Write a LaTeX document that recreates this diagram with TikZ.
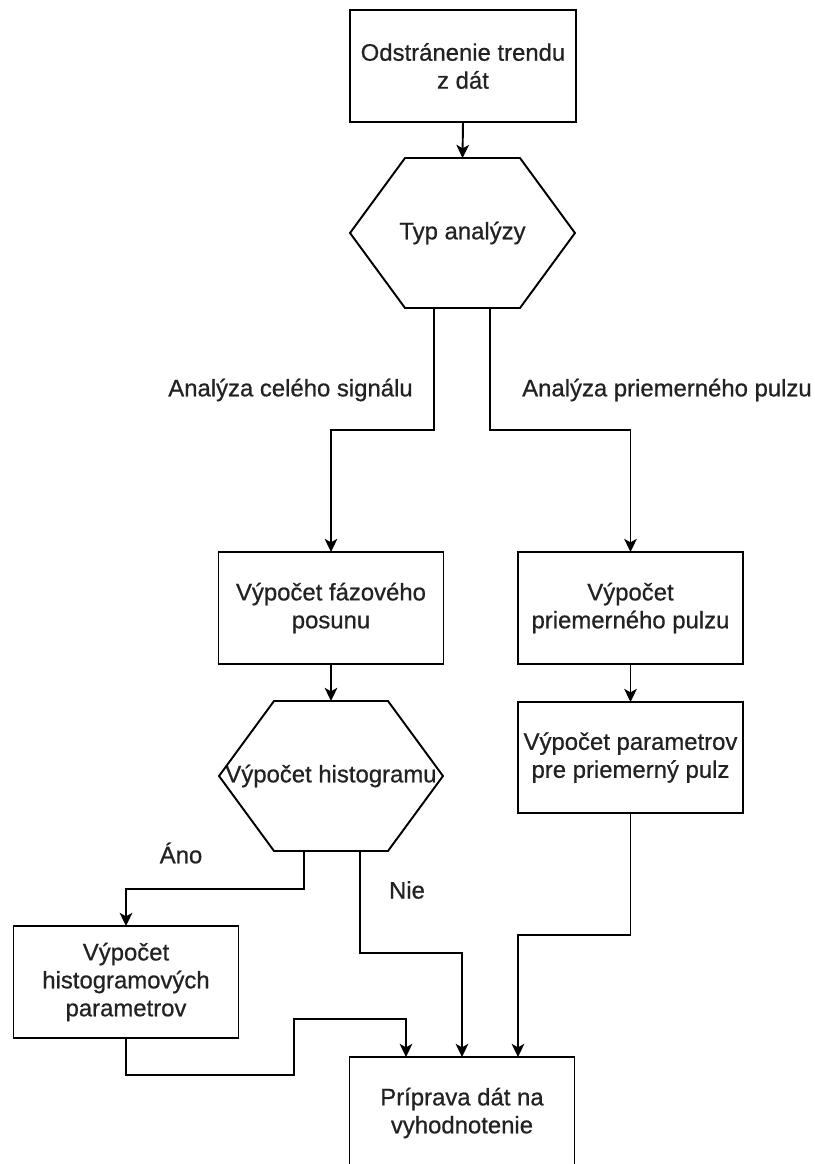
\documentclass[tikz,border=0pt]{standalone}
\usepackage{fontspec}
\setmainfont{Liberation Sans}[FakeBold=0.7]
\usetikzlibrary{arrows.meta,calc}
\definecolor{textc}{RGB}{34,34,34}
\tikzset{
  shapeline/.style={draw=black, line width=1.1pt, line join=miter},
  boxnode/.style={shapeline, minimum width=4.5cm, minimum height=2.24cm, align=center, inner sep=2pt, outer sep=0pt, text=textc},
  hexnode/.style={draw=none, minimum width=4.5cm, minimum height=3cm, align=center, inner sep=0pt, outer sep=0pt, text=textc},
  lbl/.style={text=textc, inner sep=0pt},
  conn/.style={draw=black, line width=1.1pt, -{Stealth[length=7.5pt, width=7.2pt, inset=2pt]}},
}
\newcommand\hexout[1]{\draw[shapeline] ([xshift=1.1cm]#1.north west) -- ([xshift=-1.1cm]#1.north east) -- (#1.east) -- ([xshift=-1.1cm]#1.south east) -- ([xshift=1.1cm]#1.south west) -- (#1.west) -- cycle;}
\begin{document}
\begin{tikzpicture}[x=0.02cm, y=-0.02cm, font=\fontsize{13.6pt}{15.9pt}\selectfont]
\useasboundingbox (0,0) rectangle (815,1164);
\clip (0,0) rectangle (815,1164);
% nodes
\node[boxnode, minimum width=4.52cm] (b1) at (463,66) {Odstránenie trendu\\z dát};
\node[hexnode] (h1) at (462.5,233) {Typ analýzy};
\hexout{h1}
\node[boxnode] (b2) at (331,608) {Výpočet fázového\\posunu};
\node[boxnode] (b3) at (630.5,608) {Výpočet\\priemerného pulzu};
\node[hexnode, minimum width=4.48cm] (h2) at (331,776) {Výpočet histogramu};
\hexout{h2}
\node[boxnode, minimum height=2.22cm] (b4) at (630.5,757.5) {Výpočet parametrov\\pre priemerný pulz};
\node[boxnode] (b5) at (126,982) {Výpočet\\histogramových\\parametrov};
\node[boxnode] (b6) at (462,1113) {Príprava dát na\\vyhodnotenie};
% labels
\node[lbl] (l1) at (290.5,390) {Analýza celého signálu};
\node[lbl] (l2) at (667,390) {Analýza priemerného pulzu};
\node[lbl] (l3) at (181,853) {Áno};
\node[lbl] (l4) at (407,890) {Nie};
% connectors
\draw[conn] (b1.south) -- (h1.north);
\draw[conn] ($(h1.south)+(-28.5,0)$) -- ++(0,122) -| (b2.north);
\draw[conn] ($(h1.south)+(27.5,0)$) -- ++(0,122) -| (b3.north);
\draw[conn] (b2.south) -- (h2.north);
\draw[conn] (b3.south) -- (b4.north);
\draw[conn] ($(h2.south)+(-27,0)$) -- ++(0,38) -| (b5.north);
\draw[conn] ($(h2.south)+(29,0)$) -- ++(0,102) -| (b6.north);
\draw[conn] (b5.south) -- ++(0,37) -| ++(168,-56) -| ($(b6.north)+(-56,0)$);
\draw[conn] (b4.south) -- ++(0,122) -| ($(b6.north)+(56,0)$);
\end{tikzpicture}
\end{document}
